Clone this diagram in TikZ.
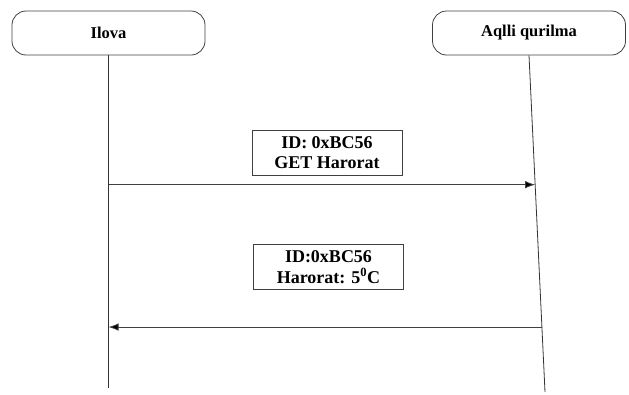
\documentclass[tikz,border=0pt]{standalone}
\usepackage{fontspec}
\setmainfont{Liberation Serif}
\usetikzlibrary{positioning, arrows.meta, calc}

\begin{document}
\begin{tikzpicture}[
  x=1pt, y=-1pt,
  actor/.style={draw=black!75, line width=0.8pt, rounded corners=14pt,
                minimum width=193pt, minimum height=44pt,
                font=\bfseries\fontsize{16.5}{19}\selectfont},
  msg/.style={draw=black!75, line width=0.8pt, minimum width=150pt, minimum height=45pt,
              align=center, inner sep=2pt, font=\bfseries\fontsize{18}{20.5}\selectfont},
  life/.style={line width=0.8pt, draw=black!80},
  arr/.style={-{Latex[length=10pt, width=7.5pt, fill=black]}, line width=0.8pt, draw=black!75},
]
\useasboundingbox (0,0) rectangle (629,394);

% Participants
\node[actor] (ilova) at (108.5,33) {Ilova};
\node[actor] (aqlli) at (529,33) {Aqlli qurilma};

% Lifelines
\coordinate (ilova-end) at (108.5,388);
\coordinate (aqlli-end) at (545,392);
\draw[life] (ilova.south) -- (ilova-end);
\draw[life] (aqlli.south) -- (aqlli-end);

% Points on the slanted lifeline
\path (aqlli.south) -- (aqlli-end)
  coordinate[pos=0.384] (a1)
  coordinate[pos=0.807] (a2);

% Messages
\node[msg] (req) at (327,152.5) {ID: 0xBC56\\GET Harorat};
\node[msg] (resp) at (328.5,267) {ID:0xBC56\\Harorat: 5\textsuperscript{0}C};

% === Arrows ===
\draw[arr] (ilova.south |- a1) -- (a1);
\draw[arr] (a2) -- (ilova.south |- a2);

\end{tikzpicture}
\end{document}
